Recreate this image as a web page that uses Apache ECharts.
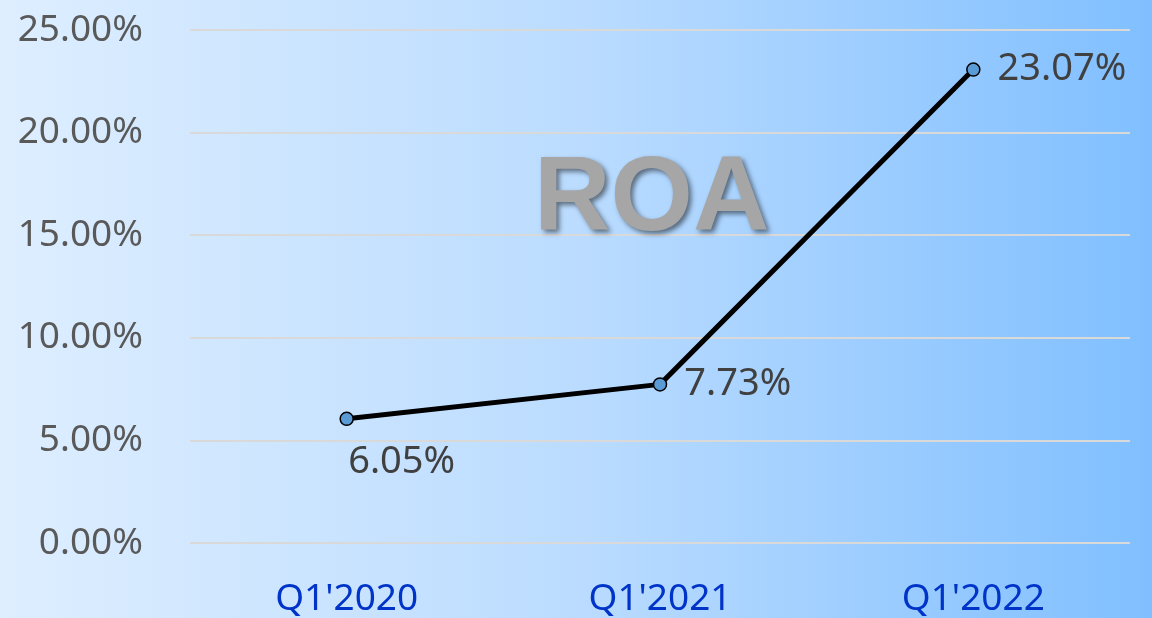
<!DOCTYPE html>
<html>
<head>
<meta charset="utf-8">
<script src="https://cdn.jsdelivr.net/npm/echarts@6/dist/echarts.min.js"></script>
<style>
  html, body { margin: 0; padding: 0; }
  #main { width: 1152px; height: 618px; }
</style>
</head>
<body>
<div id="main"></div>
<script>
// data
var categories = ["Q1'2020", "Q1'2021", "Q1'2022"];
var roaValues = [6.05, 7.73, 23.07];
var yTicks = [0, 5, 10, 15, 20, 25];

var myChart = echarts.init(document.getElementById('main'));

var labelFont = 'Noto Sans';

var option = {
  backgroundColor: new echarts.graphic.LinearGradient(0, 0, 1, 0, [
    { offset: 0, color: '#DEEEFF' },
    { offset: 0.5, color: '#BBDCFF' },
    { offset: 1, color: '#80BFFF' }
  ]),
  title: {
    text: 'ROA',
    left: 529,
    top: 143,
    textStyle: {
      fontFamily: 'Liberation Sans',
      fontWeight: 'bold',
      fontSize: 106,
      color: '#A6A6A6',
      textShadowColor: 'rgba(0,0,0,0.5)',
      textShadowBlur: 5,
      textShadowOffsetX: 3,
      textShadowOffsetY: 3
    }
  },
  grid: {
    left: 190,
    right: 22,
    top: 30,
    bottom: 75,
    containLabel: false
  },
  xAxis: {
    type: 'category',
    data: categories,
    boundaryGap: true,
    axisLine: { show: false },
    axisTick: { show: false },
    axisLabel: {
      margin: 38,
      fontFamily: labelFont,
      fontSize: 37,
      color: '#0033C8'
    }
  },
  yAxis: {
    type: 'value',
    min: yTicks[0],
    max: yTicks[yTicks.length - 1],
    interval: 5,
    axisLine: { show: false },
    axisTick: { show: false },
    splitLine: { lineStyle: { color: '#D9D9D9', width: 2 } },
    axisLabel: {
      margin: 47,
      fontFamily: labelFont,
      fontSize: 37,
      color: '#595959',
      formatter: function (v) { return v.toFixed(2) + '%'; }
    }
  },
  series: [
    {
      name: 'ROA',
      type: 'line',
      data: roaValues.map(function (v, i) {
        var item = { value: v };
        if (i === 0) {
          item.label = { position: 'bottom', offset: [55, 0] };
        }
        return item;
      }),
      symbol: 'circle',
      symbolSize: 13,
      lineStyle: { color: '#000', width: 5 },
      itemStyle: { color: '#5B9BD5', borderColor: '#000', borderWidth: 1.5 },
      label: {
        show: true,
        position: 'right',
        distance: 17,
        fontFamily: labelFont,
        fontSize: 38,
        color: '#404040',
        formatter: function (p) { return p.value.toFixed(2) + '%'; }
      },
      z: 3
    }
  ]
};

myChart.setOption(option);
window.addEventListener('resize', function () {
  myChart.resize();
});
</script>
</body>
</html>
